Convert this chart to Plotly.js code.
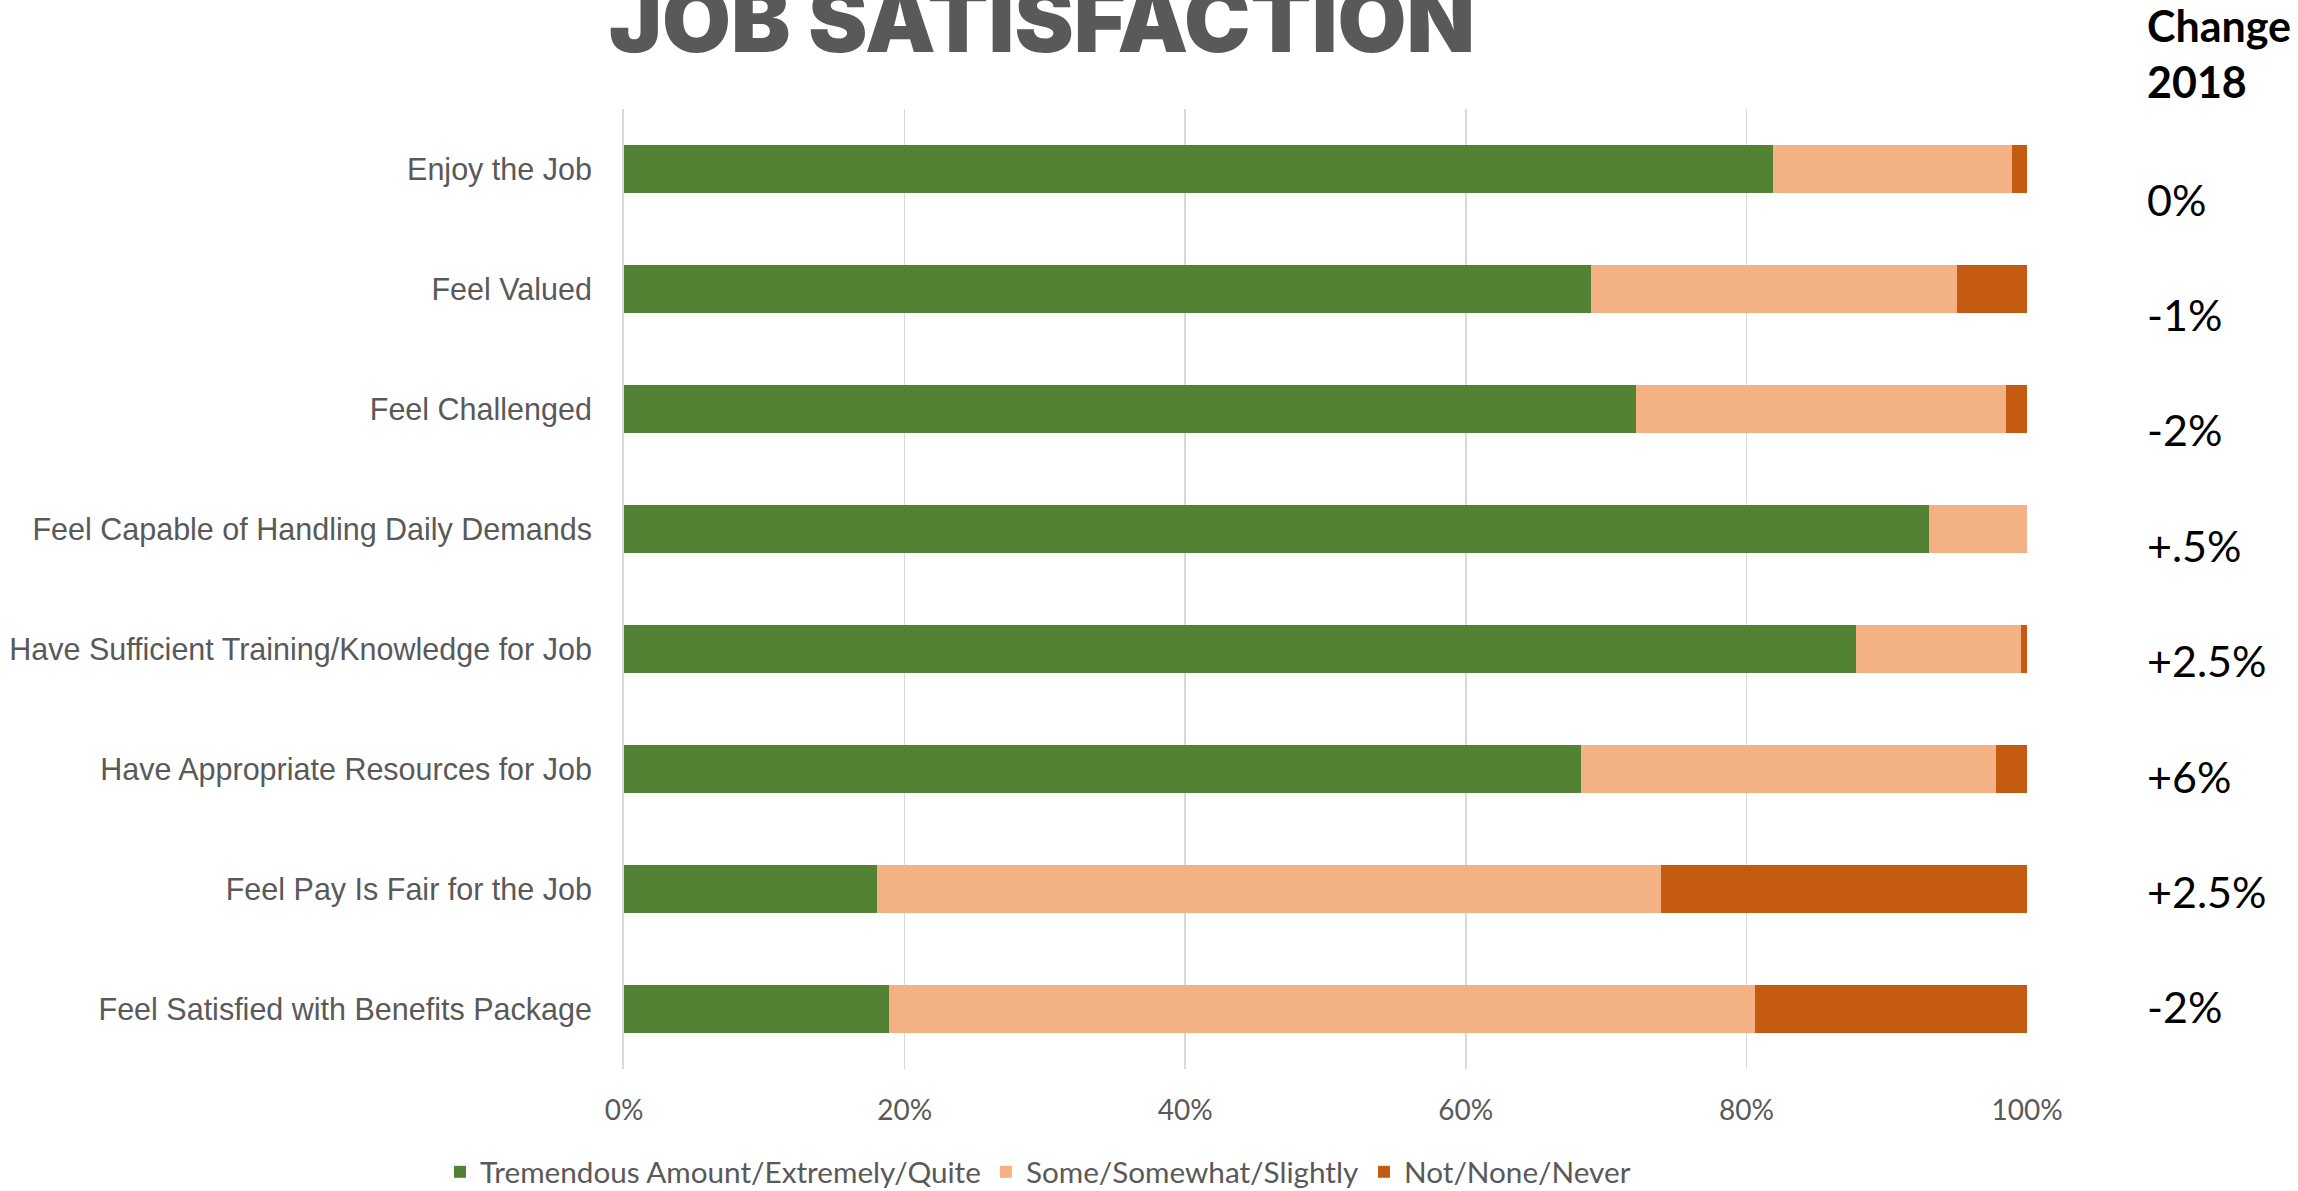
<!DOCTYPE html>
<html>
<head>
<meta charset="utf-8">
<script src="https://cdn.plot.ly/plotly-3.0.1.min.js"></script>
<style>
  html, body { margin: 0; padding: 0; background: #ffffff; }
  #chart { width: 2298px; height: 1191px; }
</style>
</head>
<body>
<div id="chart"></div>
<script>
// ---- Data ----
const categories = [
  "Enjoy the Job",
  "Feel Valued",
  "Feel Challenged",
  "Feel Capable of Handling Daily Demands",
  "Have Sufficient Training/Knowledge for Job",
  "Have Appropriate Resources for Job",
  "Feel Pay Is Fair for the Job",
  "Feel Satisfied with Benefits Package"
];
const seriesNames = [
  "Tremendous Amount/Extremely/Quite",
  "Some/Somewhat/Slightly",
  "Not/None/Never"
];
const tremendous = [0.819, 0.689, 0.721, 0.930, 0.878, 0.682, 0.180, 0.189];
const some       = [0.170, 0.261, 0.264, 0.070, 0.118, 0.296, 0.559, 0.617];
const notNone    = [0.011, 0.050, 0.015, 0.000, 0.004, 0.022, 0.261, 0.194];
const changeHeader = "Change<br>2018";
const change2018 = ["0%", "-1%", "-2%", "+.5%", "+2.5%", "+6%", "+2.5%", "-2%"];
const xTickVals = [0, 0.2, 0.4, 0.6, 0.8, 1.0];

// ---- Styles ----
const colors = ["#548235", "#F4B183", "#C55A11"];
const gray = "#595959";
const W = 2298, H = 1191;
const plotL = 624, plotR = 2027, plotT = 109, plotB = 1069;
const plotW = plotR - plotL, plotH = plotB - plotT;
const px2paperX = (px) => (px - plotL) / plotW;
const px2paperY = (py) => (plotB - py) / plotH;

const seriesValues = [tremendous, some, notNone];
const traces = seriesValues.map((vals, i) => ({
  type: "bar",
  orientation: "h",
  name: seriesNames[i],
  y: categories,
  x: vals,
  marker: { color: colors[i], line: { width: 0 } },
  hoverinfo: "x+y+name"
}));

const sideFont = "Lato, 'Open Sans', sans-serif";
const annotations = [];
annotations.push({
  xref: "paper", yref: "paper",
  x: px2paperX(2145), y: px2paperY(54),
  xanchor: "left", yanchor: "middle",
  align: "left",
  text: "<b>" + changeHeader + "</b>",
  showarrow: false,
  font: { family: sideFont, size: 43, color: "#000000", weight: 700 }
});
change2018.forEach((t, i) => {
  const yc = 199 + i * 115.4;
  annotations.push({
    xref: "paper", yref: "paper",
    x: px2paperX(2145), y: px2paperY(yc),
    xanchor: "left", yanchor: "middle",
    align: "left",
    text: t,
    showarrow: false,
    font: { family: sideFont, size: 43, color: "#000000" }
  });
});

const layout = {
  width: W, height: H,
  paper_bgcolor: "#ffffff",
  plot_bgcolor: "#ffffff",
  barmode: "stack",
  bargap: 0.6,
  margin: { l: plotL, r: W - plotR, t: plotT, b: H - plotB, pad: 0 },
  title: {
    text: "JOB SATISFACTION",
    xref: "container", yref: "container",
    x: 1042 / W, xanchor: "center",
    y: 1 - 21 / H, yanchor: "middle",
    font: { family: "Inter, Roboto, sans-serif", size: 89, color: gray, weight: 900 }
  },
  xaxis: {
    range: [0, 1],
    tickvals: xTickVals,
    tickformat: ".0%",
    showgrid: true,
    gridcolor: "#d9d9d9",
    gridwidth: 1.5,
    zeroline: false,
    showline: false,
    ticks: "",
    ticklabelstandoff: 22,
    tickfont: { family: sideFont, size: 28, color: gray },
    fixedrange: true
  },
  yaxis: {
    type: "category",
    categoryorder: "array",
    categoryarray: categories,
    range: [categories.length - 0.5, -0.5],
    showgrid: false,
    zeroline: false,
    showline: true,
    linecolor: "#d9d9d9",
    linewidth: 2,
    ticks: "",
    ticklabelstandoff: 24,
    tickfont: { family: "'Liberation Sans', Arial, sans-serif", size: 30.5, color: gray },
    fixedrange: true
  },
  showlegend: true,
  legend: {
    orientation: "h",
    xref: "container", yref: "container",
    x: 440 / W, xanchor: "left",
    y: 1 - 1172 / H, yanchor: "middle",
    traceorder: "normal",
    font: { family: sideFont, size: 29.7, color: gray },
    bgcolor: "rgba(0,0,0,0)",
    itemclick: false, itemdoubleclick: false
  },
  annotations: annotations
};

Plotly.newPlot("chart", traces, layout, { displayModeBar: false, staticPlot: true });
</script>
</body>
</html>
